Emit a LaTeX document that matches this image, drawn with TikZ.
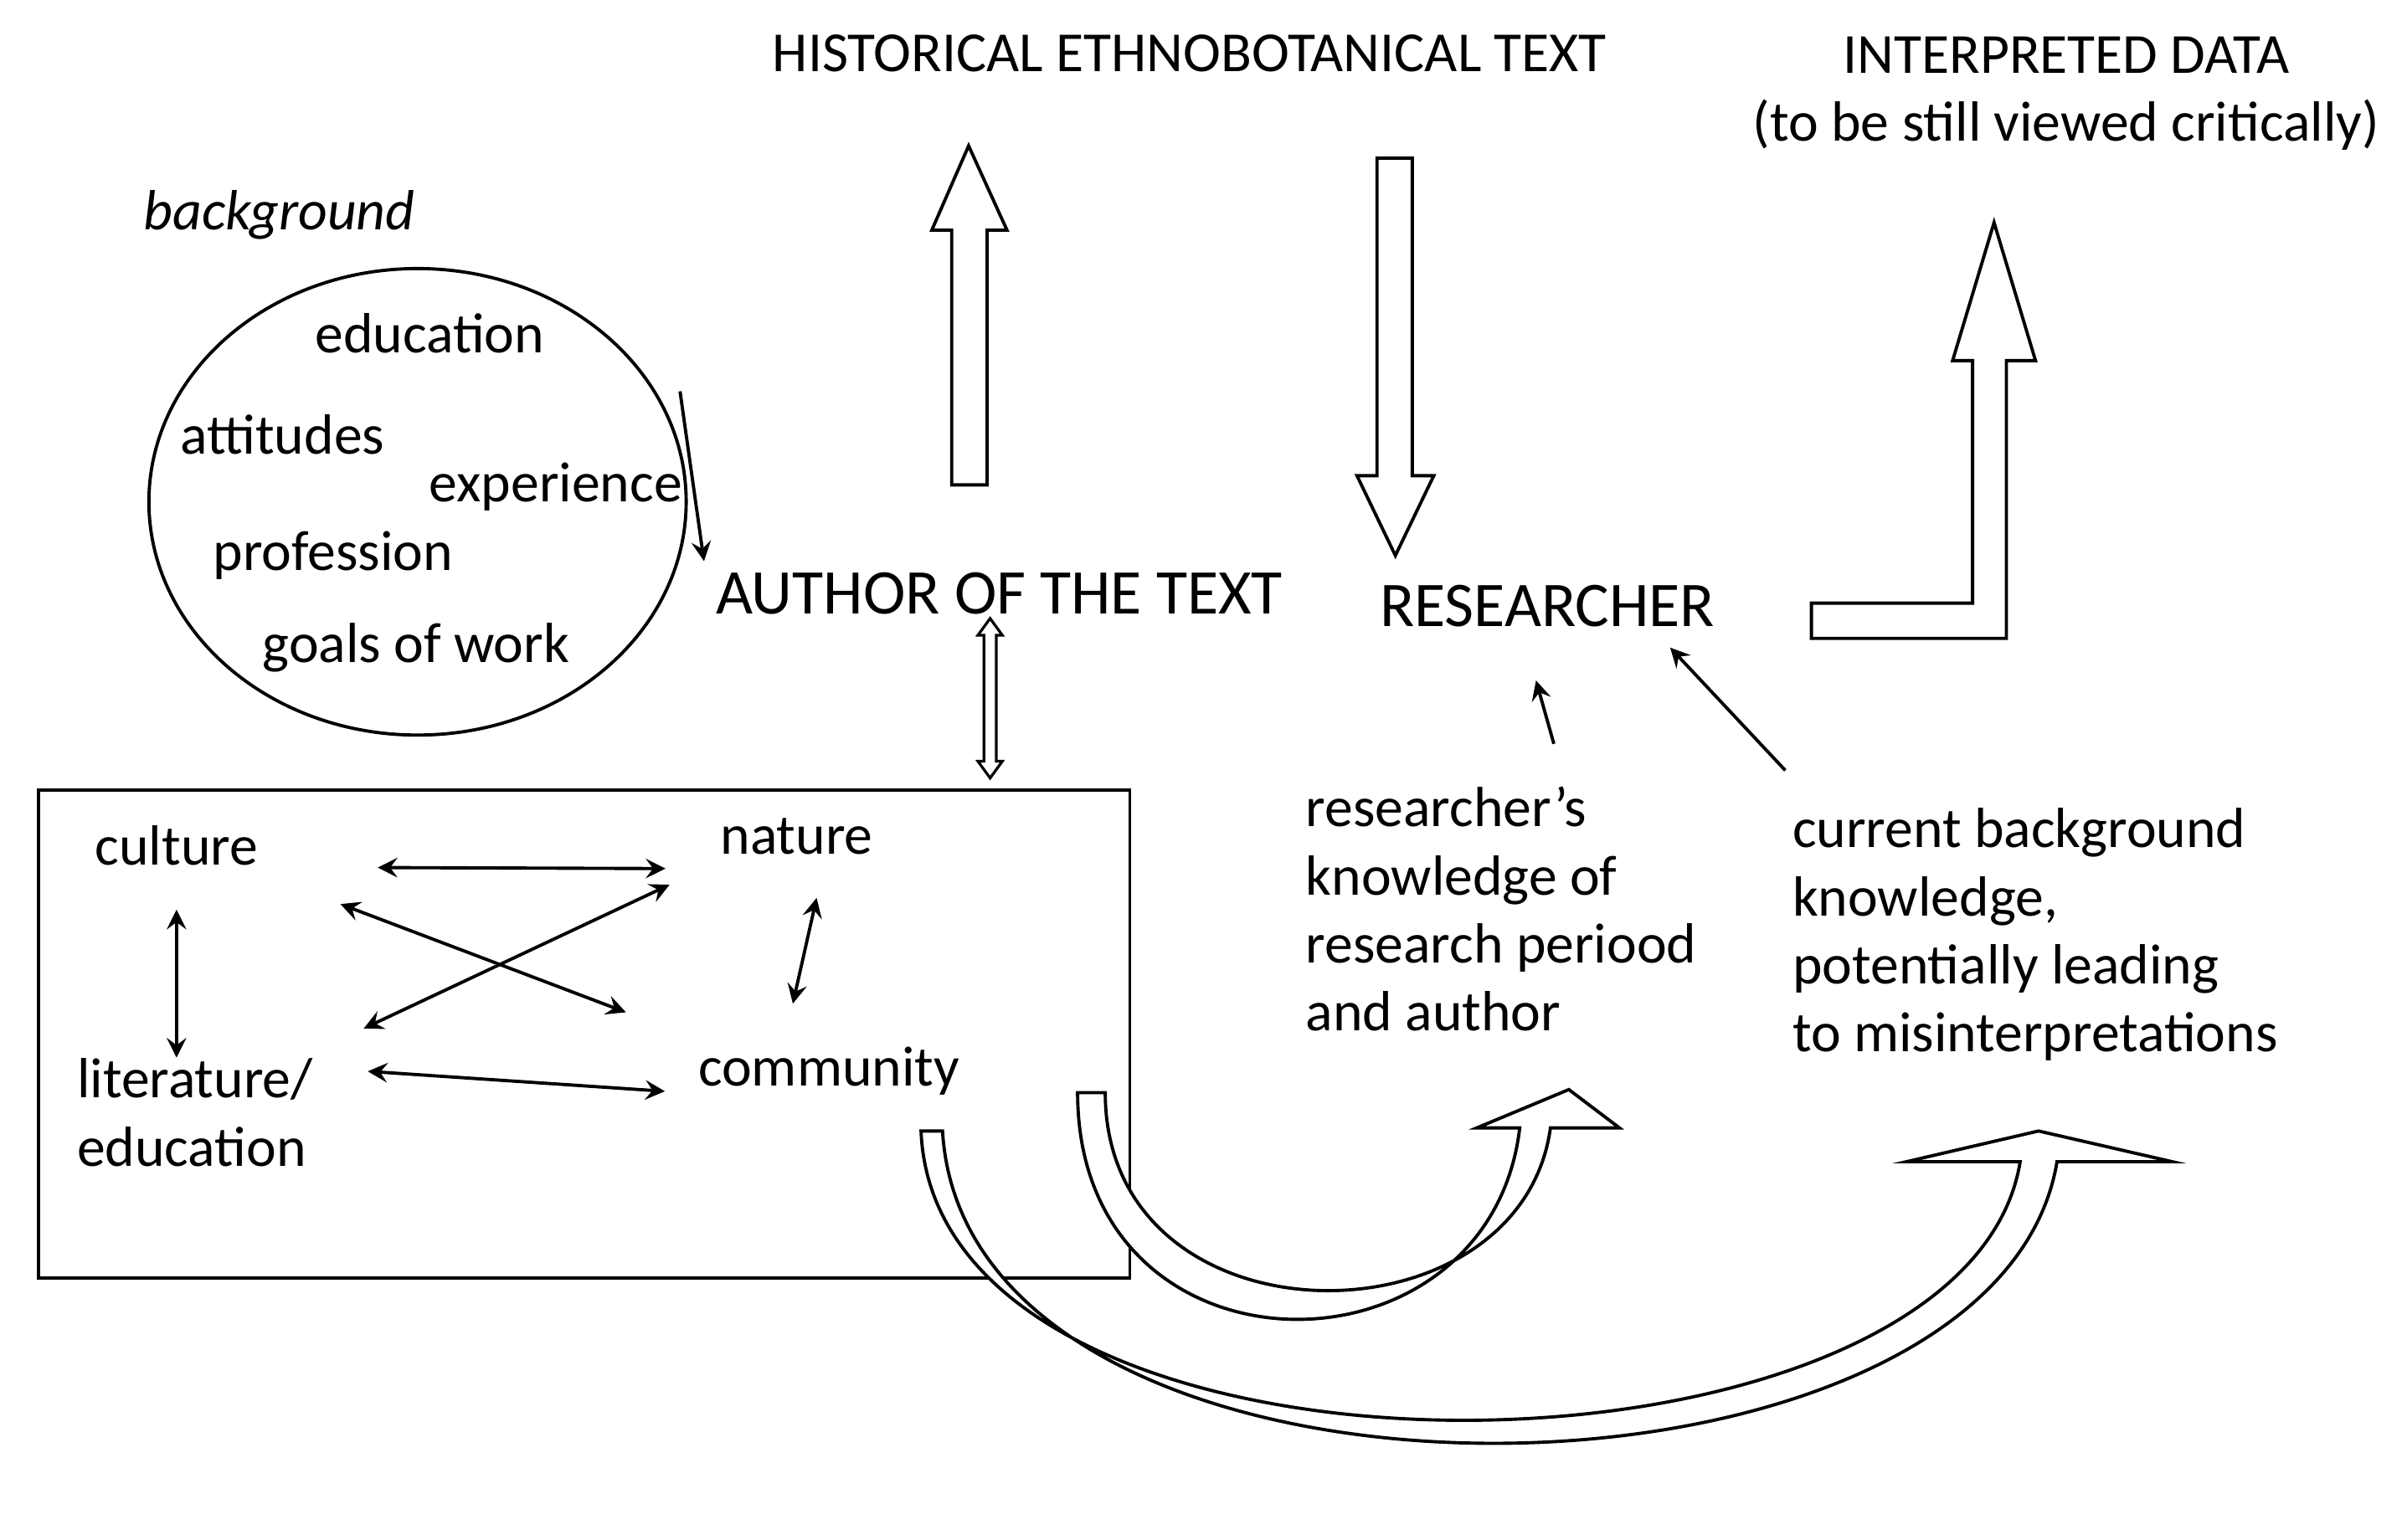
\documentclass[tikz,border=0pt]{standalone}
\usepackage{fontspec}
\setmainfont{Carlito}
\usetikzlibrary{positioning}
\begin{document}
\begin{tikzpicture}[x=0.01cm, y=-0.01cm, >=stealth,
	txt/.style={font=\fontsize{10.5}{12.6}\selectfont, inner sep=2pt},
	big/.style={font=\fontsize{11.8}{14}\selectfont},
	hollow/.style={draw, fill=white, line width=0.6pt},
	link/.style={<->, line width=0.6pt, shorten <=3pt, shorten >=3pt}]
	\useasboundingbox (0,0) rectangle (1568,1003);

	% headings
	\node [txt] (hist) at (775,35) {HISTORICAL ETHNOBOTANICAL TEXT};
	\node [txt, align=center] (interp) at (1346,61) {INTERPRETED DATA\\(to be still viewed critically)};

	% background of the author
	\node [txt, font=\fontsize{10.5}{12.6}\selectfont\itshape] (bg) at (182,140) {background};
	\draw [line width=0.6pt] (272,327) ellipse [x radius=175, y radius=152];
	\node [txt] (edu) at (280,217) {education};
	\node [txt] (att) at (184,283) {attitudes};
	\node [txt] (exp) at (362,317) {experience};
	\node [txt] (prof) at (217,362) {profession};
	\node [txt] (goals) at (271,422) {goals of work};

	\node [txt, big] (author) at (651,387) {AUTHOR OF THE TEXT};
	\node [txt, big] (res) at (1008,395) {RESEARCHER};
	\coordinate (bgout) at (443,255);
	\draw [->, line width=0.6pt] (bgout) -- (author.north west);

	% hollow arrows
	\draw [hollow] (620,316) -- (620,150) -- (607,150) -- (631,95) -- (656,150) -- (643,150) -- (643,316) -- cycle;
	\draw [hollow] (897,103) -- (897,310) -- (884,310) -- (909,362) -- (934,310) -- (920,310) -- (920,103) -- cycle;
	\draw [hollow] (1180,393) -- (1285,393) -- (1285,235) -- (1272,235) -- (1299,145)
		-- (1326,235) -- (1307,235) -- (1307,416) -- (1180,416) -- cycle;
	\draw [hollow, line width=0.5pt] (641,414) -- (641,496) -- (637,496) -- (645,507) -- (653,496) -- (649,496)
		-- (649,414) -- (653,414) -- (645,403) -- (637,414) -- cycle;

	% context box
	\draw [line width=0.6pt] (25,515) rectangle (736,833);
	\node [txt] (cult) at (115,551) {culture};
	\node [txt] (nat) at (519,545) {nature};
	\node [txt, align=left] (lit) at (127,725) {literature/\\education};
	\node [txt] (comm) at (540,698) {community};
	\draw [link, shorten <=20pt, shorten >=8pt] ([yshift=-4pt]cult.east) -- ([yshift=-6pt]nat.west);
	\draw [link, shorten <=8pt, shorten >=4pt] ([yshift=-4pt]lit.north east) -- ([yshift=-4pt]comm.west);
	\draw [link, shorten <=6pt, shorten >=6pt] (cult.south) -- ([yshift=-8pt]lit.north -| cult.south);
	\draw [link, shorten <=6pt, shorten >=6pt] ([xshift=5pt]nat.south) -- ([xshift=-8pt]comm.north);
	\draw [link, shorten <=14pt, shorten >=12pt] (cult.south east) -- (comm.north west);
	\draw [link, shorten <=8pt, shorten >=8pt] (nat.south west) -- (lit.north east);

	% researcher side
	\node [txt, align=left, anchor=north west] (know) at (843,505) {researcher’s\\knowledge of\\research periood\\and author};
	\node [txt, align=left, anchor=north west] (curr) at (1160,519) {current background\\knowledge,\\potentially leading\\to misinterpretations};
	\draw [->, line width=0.6pt, shorten <=6pt, shorten >=8pt] (know.north) ++(40,0) coordinate (k1) -- (res.south west -| 993,0);
	\draw [->, line width=0.6pt] (1163,502) coordinate (c1) -- (1088,422);

	% curved hollow arrows
	\draw [hollow] (702,712) -- (720,712) .. controls (720,880) and (990,880) .. (1010,735)
		-- (1055,735) -- (1022,710) -- (962,735) -- (990,735)
		.. controls (970,905) and (702,905) .. cycle;
	\draw [hollow] (600,737) -- (614,737) .. controls (630,1010) and (1300,1000) .. (1340,757)
		-- (1415,757) -- (1328,737) -- (1242,757) -- (1316,757)
		.. controls (1280,980) and (610,990) .. cycle;
\end{tikzpicture}
\end{document}
